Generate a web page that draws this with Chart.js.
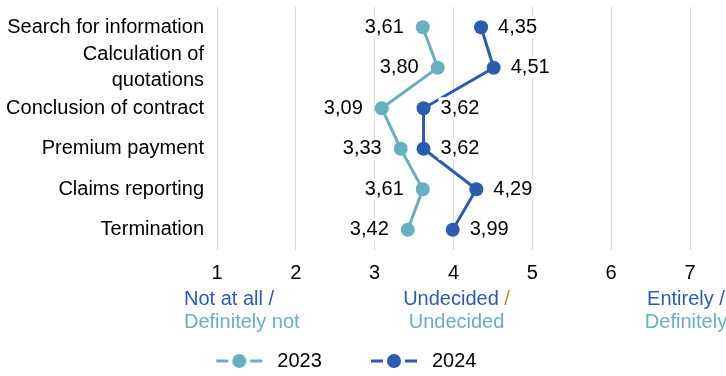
<!DOCTYPE html>
<html>
<head>
<meta charset="utf-8">
<script src="https://cdn.jsdelivr.net/npm/chart.js@4/dist/chart.umd.min.js"></script>
<style>
  html, body { margin: 0; padding: 0; background: #fff; }
  #wrap { width: 726px; height: 376px; }
</style>
</head>
<body>
<div id="wrap"><canvas id="chart" width="726" height="376"></canvas></div>
<script>
// data
const categories = [
    "Search for information",
    ["Calculation of", "quotations"],
    "Conclusion of contract",
    "Premium payment",
    "Claims reporting",
    "Termination"
];
const seriesNames = ["2023", "2024"];
const values2023 = [3.61, 3.80, 3.09, 3.33, 3.61, 3.42];
const values2024 = [4.35, 4.51, 3.62, 3.62, 4.29, 3.99];

// scale anchors with their captions under the axis
const anchorValues = [1, 4, 7];
const anchorTop = ["Not at all", "Undecided", "Entirely"];
const anchorBottom = ["Definitely not", "Undecided", "Definitely"];

const TEAL = "#67b0c1";
const BLUE = "#2a5caf";
const SLASH = ["#2a5caf", "#c08a2e", "#2a5caf"];
const FONT = "Liberation Sans, Arial, sans-serif";

// legend marker: line - dot - line, with some blank room on the left
function legendMarker(color) {
    const c = document.createElement("canvas");
    c.width = 72; c.height = 16;
    const g = c.getContext("2d");
    g.strokeStyle = color; g.fillStyle = color; g.lineWidth = 3;
    g.beginPath();
    g.moveTo(21, 8); g.lineTo(33, 8);
    g.moveTo(55, 8); g.lineTo(67, 8);
    g.stroke();
    g.beginPath();
    g.arc(44, 8, 7, 0, Math.PI * 2);
    g.fill();
    return c;
}
const markers = [legendMarker(TEAL), legendMarker(BLUE)];

// value labels with white background, 2023 left of the dot, 2024 right of it
const valueLabels = {
    id: "valueLabels",
    afterDatasetsDraw(chart) {
        const ctx = chart.ctx;
        ctx.save();
        ctx.font = "20px " + FONT;
        ctx.textBaseline = "middle";
        ctx.textAlign = "left";
        chart.data.datasets.forEach((ds, i) => {
            const meta = chart.getDatasetMeta(i);
            meta.data.forEach((pt, j) => {
                const txt = ds.data[j].toFixed(2).replace(".", ",");
                const w = ctx.measureText(txt).width;
                const x = i === 0 ? pt.x - 19 - w : pt.x + 17;
                ctx.fillStyle = "#fff";
                ctx.fillRect(x - 2, pt.y - 11, w + 4, 22);
                ctx.fillStyle = "#000";
                ctx.fillText(txt, x, pt.y);
            });
        });
        ctx.restore();
    }
};

// captions under the x axis
const axisCaptions = {
    id: "axisCaptions",
    afterDraw(chart) {
        const ctx = chart.ctx;
        const xs = chart.scales.x;
        ctx.save();
        ctx.font = "20px " + FONT;
        ctx.textBaseline = "middle";
        ctx.textAlign = "left";
        anchorValues.forEach((v, i) => {
            const px = xs.getPixelForValue(v);
            const top = anchorTop[i] + " ";
            const wTop = ctx.measureText(top + "/").width;
            const wBot = ctx.measureText(anchorBottom[i]).width;
            let x1, x2;
            if (i === 0) { x1 = px - 33; x2 = px - 33; }
            else { const c = i === 1 ? px + 3 : px - 4; x1 = c - wTop / 2; x2 = c - wBot / 2; }
            ctx.fillStyle = BLUE;
            ctx.fillText(top, x1, 299);
            ctx.fillStyle = SLASH[i];
            ctx.fillText("/", x1 + ctx.measureText(top).width, 299);
            ctx.fillStyle = TEAL;
            ctx.fillText(anchorBottom[i], x2, 322);
        });
        ctx.restore();
    }
};

const ctx = document.getElementById("chart").getContext("2d");
new Chart(ctx, {
    type: "line",
    data: {
        labels: categories,
        datasets: [
            {
                label: seriesNames[0] + "    ",
                data: values2023,
                borderColor: TEAL,
                backgroundColor: TEAL,
                borderWidth: 3,
                pointRadius: 7,
                pointBorderWidth: 0
            },
            {
                label: seriesNames[1] + "    ",
                data: values2024,
                borderColor: BLUE,
                backgroundColor: BLUE,
                borderWidth: 3,
                pointRadius: 7,
                pointBorderWidth: 0
            }
        ]
    },
    options: {
        indexAxis: "y",
        responsive: false,
        animation: false,
        layout: { padding: { top: 5, left: 4, right: 36, bottom: -5 } },
        scales: {
            x: {
                type: "linear",
                min: 1,
                max: 7,
                ticks: { stepSize: 1, color: "#000", padding: 11, font: { family: FONT, size: 20 } },
                grid: { color: "#d9d9d9", lineWidth: 1, drawTicks: false },
                border: { display: false },
                afterFit(s) { s.height = 95; }
            },
            y: {
                type: "category",
                offset: true,
                ticks: { color: "#000", padding: 13, autoSkip: false, font: { family: FONT, size: 20, lineHeight: 1.3 } },
                grid: { display: false, drawTicks: false },
                border: { display: false },
                afterFit(s) { s.width = 213; s.paddingTop = 0; s.paddingBottom = 0; }
            }
        },
        plugins: {
            tooltip: { enabled: false },
            legend: {
                position: "bottom",
                labels: {
                    usePointStyle: true,
                    pointStyleWidth: 72,
                    padding: 6,
                    color: "#000",
                    font: { family: FONT, size: 20 },
                    generateLabels(chart) {
                        const items = Chart.defaults.plugins.legend.labels.generateLabels(chart);
                        items.forEach((it, i) => { it.pointStyle = markers[i]; });
                        return items;
                    }
                }
            }
        }
    },
    plugins: [valueLabels, axisCaptions]
});
</script>
</body>
</html>
